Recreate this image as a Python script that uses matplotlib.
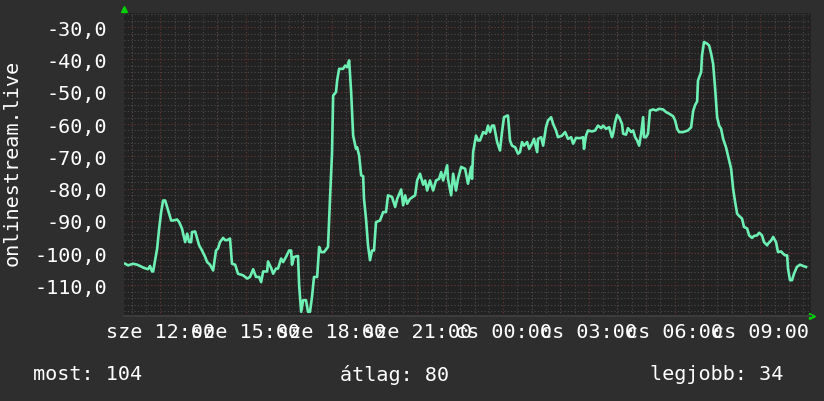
import numpy as np
import matplotlib
matplotlib.use("Agg")
import matplotlib.pyplot as plt
from matplotlib.ticker import FuncFormatter, MultipleLocator, FixedLocator
import matplotlib.transforms as mtransforms

# ora (0-24 = elso nap, 24+ = masodik nap)
hours = [
    10.77, 10.87, 11.05, 11.19, 11.29, 11.43, 11.57, 11.64, 11.71, 11.75,
    11.82, 11.89, 11.96, 12.03, 12.10, 12.17, 12.24, 12.31, 12.38, 12.45,
    12.59, 12.66, 12.76, 12.80, 12.87, 12.94, 13.01, 13.08, 13.11, 13.22,
    13.29, 13.36, 13.46, 13.57, 13.64, 13.74, 13.85, 13.95, 14.02, 14.09,
    14.20, 14.27, 14.34, 14.44, 14.51, 14.62, 14.72, 14.90, 15.04, 15.14,
    15.25, 15.35, 15.46, 15.53, 15.60, 15.74, 15.77, 15.88, 15.95, 16.05,
    16.12, 16.23, 16.30, 16.40, 16.51, 16.58, 16.61, 16.68, 16.82, 16.86,
    16.93, 17.00, 17.10, 17.17, 17.24, 17.31, 17.38, 17.49, 17.56, 17.63,
    17.73, 17.87, 17.94, 18.01, 18.05, 18.15, 18.19, 18.26, 18.40, 18.47,
    18.54, 18.61, 18.68, 18.75, 18.85, 18.89, 18.96, 19.03, 19.10, 19.13,
    19.20, 19.27, 19.34, 19.41, 19.48, 19.55, 19.69, 19.80, 19.90, 19.97,
    20.11, 20.22, 20.29, 20.43, 20.50, 20.57, 20.64, 20.74, 20.92, 20.99,
    21.09, 21.20, 21.27, 21.34, 21.44, 21.55, 21.65, 21.76, 21.83, 21.90,
    22.04, 22.07, 22.18, 22.25, 22.35, 22.42, 22.53, 22.67, 22.77, 22.88,
    22.91, 22.95, 23.05, 23.12, 23.19, 23.30, 23.40, 23.47, 23.54, 23.61,
    23.68, 23.79, 23.89, 23.96, 24.03, 24.14, 24.17, 24.24, 24.31, 24.42,
    24.52, 24.59, 24.66, 24.73, 24.84, 24.91, 25.01, 25.08, 25.19, 25.22,
    25.33, 25.40, 25.50, 25.57, 25.68, 25.75, 25.85, 25.92, 26.06, 26.17,
    26.27, 26.38, 26.45, 26.55, 26.69, 26.80, 26.83, 26.90, 26.97, 27.11,
    27.22, 27.32, 27.43, 27.50, 27.60, 27.71, 27.81, 27.85, 27.92, 27.99,
    28.06, 28.16, 28.20, 28.30, 28.37, 28.48, 28.55, 28.62, 28.69, 28.76,
    28.83, 28.90, 28.93, 29.00, 29.07, 29.14, 29.25, 29.35, 29.46, 29.60,
    29.70, 29.81, 29.95, 30.02, 30.09, 30.16, 30.30, 30.47, 30.58, 30.65,
    30.72, 30.79, 30.82, 30.93, 30.96, 31.03, 31.14, 31.21, 31.28, 31.35,
    31.42, 31.49, 31.56, 31.63, 31.70, 31.80, 31.87, 31.98, 32.05, 32.12,
    32.19, 32.26, 32.36, 32.43, 32.54, 32.61, 32.71, 32.78, 32.89, 32.96,
    33.06, 33.13, 33.24, 33.27, 33.38, 33.45, 33.55, 33.62, 33.73, 33.80,
    33.87, 33.94, 33.97, 34.04, 34.11, 34.18, 34.28, 34.39, 34.50, 34.60,
]

values = [
    -103.3, -103.8, -103.3, -103.6, -104.0, -104.6, -105.0, -104.0, -105.7, -105.7,
    -102.2, -98.6, -92.4, -87.3, -83.7, -83.7, -85.7, -87.8, -89.9, -89.9,
    -89.6, -90.4, -92.4, -94.0, -96.6, -94.0, -96.6, -96.6, -93.5, -93.3,
    -95.5, -97.6, -99.2, -101.2, -102.8, -103.6, -105.4, -99.2, -98.6, -96.6,
    -95.3, -96.0, -96.0, -95.5, -103.3, -103.6, -106.4, -106.9, -107.9, -107.4,
    -105.0, -107.4, -107.4, -109.0, -105.7, -105.7, -102.6, -104.6, -106.4, -104.8,
    -104.8, -101.7, -102.8, -101.2, -99.2, -99.2, -103.6, -101.2, -100.9, -110.0,
    -118.2, -114.6, -114.6, -118.2, -118.2, -113.6, -107.4, -107.4, -98.1, -99.7,
    -99.7, -98.1, -83.2, -69.2, -51.2, -50.1, -46.5, -42.9, -42.9, -41.9,
    -42.4, -40.3, -50.1, -63.6, -67.7, -67.2, -69.8, -75.9, -76.2, -83.2,
    -89.3, -97.6, -102.2, -99.2, -99.2, -90.4, -89.9, -87.3, -87.3, -82.1,
    -82.6, -85.7, -83.2, -80.3, -85.2, -82.1, -84.7, -83.2, -82.1, -77.5,
    -75.4, -78.8, -77.5, -80.6, -77.5, -80.6, -77.5, -77.0, -74.9, -77.5,
    -72.8, -77.0, -82.1, -75.4, -80.6, -77.0, -73.3, -73.9, -78.5, -73.3,
    -77.0, -68.7, -63.6, -65.1, -65.1, -62.5, -63.0, -60.5, -62.5, -60.5,
    -60.5, -65.6, -68.2, -62.5, -57.9, -57.4, -57.4, -65.1, -66.7, -67.2,
    -69.2, -68.7, -65.6, -66.7, -65.6, -67.7, -66.1, -64.6, -68.7, -64.6,
    -64.1, -66.7, -61.0, -58.9, -57.9, -60.0, -62.0, -64.1, -63.6, -62.5,
    -64.6, -64.1, -66.1, -64.3, -64.4, -64.1, -67.7, -63.6, -62.0, -62.3,
    -62.0, -60.5, -61.3, -60.5, -61.5, -61.0, -64.1, -63.0, -59.4, -57.2,
    -57.9, -60.0, -63.0, -63.3, -61.3, -62.5, -62.0, -64.1, -65.1, -66.7,
    -63.0, -57.9, -64.1, -64.1, -63.0, -55.8, -55.5, -55.8, -55.3, -55.5,
    -56.3, -56.8, -57.6, -58.9, -61.5, -62.5, -62.5, -62.0, -61.0, -56.0,
    -54.1, -53.0, -46.5, -43.9, -38.8, -34.6, -35.1, -35.7, -38.2, -41.4,
    -49.1, -57.9, -60.5, -61.5, -64.6, -67.2, -69.8, -73.9, -80.1, -84.2,
    -87.8, -88.5, -89.3, -91.9, -92.4, -94.5, -95.3, -94.7, -94.5, -93.7,
    -94.5, -96.6, -97.6, -97.1, -96.1, -95.0, -96.6, -99.7, -99.5, -100.2,
    -100.7, -100.7, -104.8, -108.4, -108.4, -106.4, -104.3, -103.6, -104.0, -104.3,
]

tick_hours = [12, 15, 18, 21, 24, 27, 30, 33]
tick_labels = ["sze 12:00", "sze 15:00", "sze 18:00", "sze 21:00",
               "cs 00:00", "cs 03:00", "cs 06:00", "cs 09:00"]
y_label = "onlinestream.live"
stats = [("most: 104", 0.040), ("átlag: 80", 0.4126), ("legjobb: 34", 0.789)]

BG = "#2e2e2e"
PLOT_BG = "#222222"
TXT = "#ffffff"
LINE = "#6ef0b4"
FONT = "DejaVu Sans Mono"
FS = 14.5

fig = plt.figure(figsize=(8.24, 4.02), dpi=100, facecolor=BG)
ax = fig.add_axes([124 / 824, 1 - 317 / 402, 687 / 824, 303 / 402])
ax.set_facecolor(PLOT_BG)

ax.set_xlim(10.73, 34.775)
ax.set_ylim(-119.5, -25.6)

# racs: szurke finom, piros fo
ax.xaxis.set_minor_locator(MultipleLocator(0.5))
ax.yaxis.set_minor_locator(MultipleLocator(2))
ax.xaxis.set_major_locator(FixedLocator(tick_hours))
ax.yaxis.set_major_locator(MultipleLocator(10))
ax.grid(which="minor", color="#4a4a4a", linestyle=(0, (1, 2)), linewidth=0.8)
for h in np.arange(11, 35, 1):
    ax.axvline(h, color="#6e3636", linestyle=(0, (1, 2)), linewidth=0.8, zorder=1)
for v in range(-110, -20, 10):
    ax.axhline(v, color="#6e3636", linestyle=(0, (1, 2)), linewidth=0.8, zorder=1)

ax.plot(hours, values, color=LINE, linewidth=1.9, zorder=3)

ax.set_xticks(tick_hours)
ax.set_xticklabels(tick_labels)
ax.set_yticks(range(-110, -20, 10))
ax.yaxis.set_major_formatter(FuncFormatter(lambda v, p: f"{v:.1f}".replace(".", ",")))
ax.tick_params(which="both", length=0, colors=TXT)
ax.tick_params(axis="y", pad=12, labelsize=FS)
ax.tick_params(axis="x", pad=4, labelsize=FS)
for lab in ax.get_xticklabels() + ax.get_yticklabels():
    lab.set_fontfamily(FONT)
    lab.set_color(TXT)

for s in ax.spines.values():
    s.set_visible(False)
ax.spines["bottom"].set_visible(True)
ax.spines["bottom"].set_color("#3c3c3c")
ax.spines["bottom"].set_linewidth(1.5)

# zold nyilak
off_up = mtransforms.offset_copy(ax.transAxes, fig=fig, x=0, y=4, units="dots")
ax.plot([0], [1], marker="^", color="#00d000", markersize=5, transform=off_up, clip_on=False)
off_rt = mtransforms.offset_copy(ax.transAxes, fig=fig, x=1, y=0, units="dots")
ax.plot([1], [0], marker=">", color="#00d000", markersize=5, transform=off_rt, clip_on=False)

fig.text(0.015, 1 - 163 / 402, y_label, rotation=90, ha="center", va="center",
         color=TXT, fontsize=FS, fontfamily=FONT)

for txt, xpos in stats:
    fig.text(xpos, 1 - 375 / 402, txt, ha="left", va="center",
             color=TXT, fontsize=FS, fontfamily=FONT)

fig.savefig("out.png", dpi=100, facecolor=BG)
